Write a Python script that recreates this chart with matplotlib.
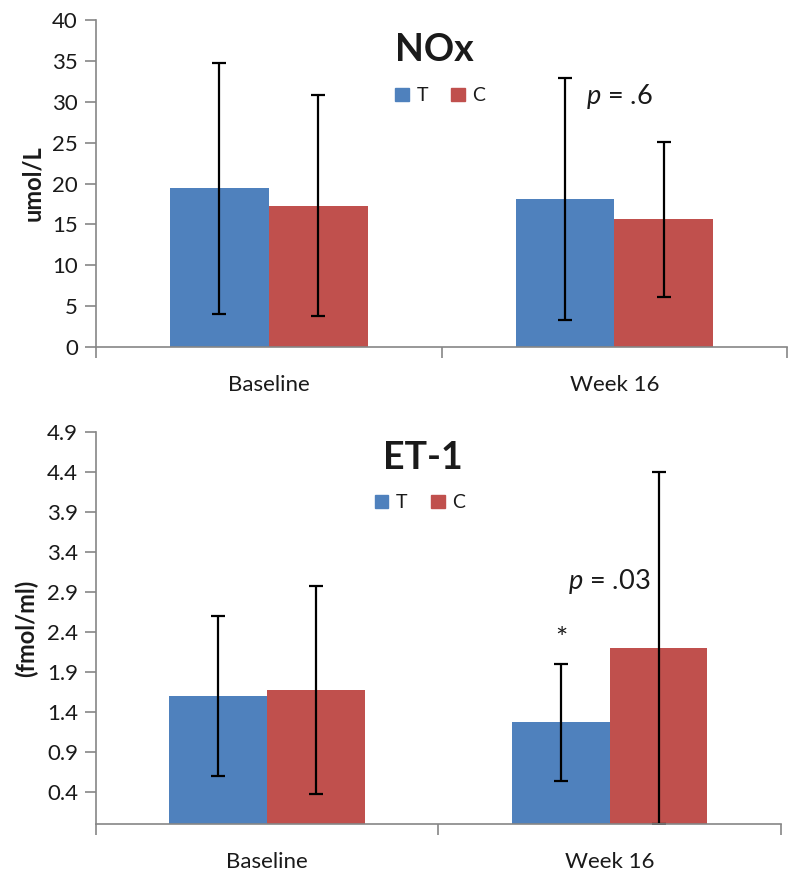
import matplotlib
matplotlib.use("Agg")
import matplotlib.pyplot as plt
import numpy as np
from matplotlib.patches import Patch

plt.rcParams['font.family'] = ['Lato', 'DejaVu Sans']
plt.rcParams['mathtext.fontset'] = 'custom'
plt.rcParams['mathtext.it'] = 'Lato:italic'
plt.rcParams['mathtext.rm'] = 'Lato'

categories = ["Baseline", "Week 16"]
series = ["T", "C"]

nox_T = [19.4, 18.1]
nox_C = [17.3, 15.6]
nox_T_err = [15.4, 14.85]
nox_C_err = [13.5, 9.5]
nox_ticks = [0, 5, 10, 15, 20, 25, 30, 35, 40]

et_T = [1.60, 1.27]
et_C = [1.68, 2.20]
et_T_err = [1.0, 0.73]
et_C_err = [1.30, 2.20]
et_ticks = [0.4, 0.9, 1.4, 1.9, 2.4, 2.9, 3.4, 3.9, 4.4, 4.9]

blue = "#4F81BD"
red = "#C0504D"
axis_grey = "#868686"
text_col = "#1a1a1a"

fig = plt.figure(figsize=(8.0, 8.77), dpi=100)
ax1 = fig.add_axes([0.12, 0.6043, 0.864, 0.3729])
ax2 = fig.add_axes([0.12, 0.0604, 0.856, 0.447])

w = 1 / 3.5
TICK_FS = 16


def style(ax, ticks, ylim, yfmt):
    x = np.arange(len(categories))
    for s in ["top", "right"]:
        ax.spines[s].set_visible(False)
    for s in ["left", "bottom"]:
        ax.spines[s].set_color(axis_grey)
        ax.spines[s].set_linewidth(1.2)
    ax.set_xlim(-0.5, 1.5)
    ax.set_ylim(*ylim)
    ax.set_yticks(ticks)
    ax.set_yticklabels([yfmt(t) for t in ticks], fontsize=TICK_FS, color=text_col)
    ax.set_xticks(x)
    ax.set_xticklabels(categories, fontsize=TICK_FS, color=text_col)
    ax.tick_params(axis="x", which="major", length=0, pad=20)
    ax.set_xticks([-0.5, 0.5, 1.5], minor=True)
    ax.tick_params(axis="x", which="minor", length=8, width=1.2, color=axis_grey, direction="out")
    ax.tick_params(axis="y", length=8, width=1.2, color=axis_grey, direction="out", pad=5)


def bars(ax, T, C, Terr, Cerr, Clower=None):
    x = np.arange(len(categories))
    ekw = dict(ecolor="black", elinewidth=1.6, capsize=5, capthick=1.6)
    ax.bar(x - w / 2, T, w, color=blue, yerr=Terr, error_kw=ekw, zorder=2)
    if Clower is None:
        Clower = Cerr
    ax.bar(x + w / 2, C, w, color=red, yerr=[Clower, Cerr], error_kw=ekw, zorder=2)


leg_kw = dict(loc="center", ncol=2, frameon=False, fontsize=14, handlelength=0.7,
              handleheight=0.7, handletextpad=0.4, columnspacing=1.2, labelcolor=text_col)

# Top: NOx
bars(ax1, nox_T, nox_C, nox_T_err, nox_C_err)
style(ax1, nox_ticks, (0, 40), lambda t: f"{t:g}")
ax1.set_ylabel("umol/L", fontsize=17, fontweight="bold", color=text_col, labelpad=6)
ax1.text(0.489, 0.908, "NOx", transform=ax1.transAxes, ha="center", va="center",
         fontsize=27, fontweight="bold", color=text_col)
ax1.text(0.757, 0.765, r"$p$ = .6", transform=ax1.transAxes, ha="center", va="center",
         fontsize=19.5, color=text_col)
handles = [Patch(color=blue, label="T"), Patch(color=red, label="C")]
ax1.legend(handles=handles, bbox_to_anchor=(0.498, 0.768), **leg_kw)

# Bottom: ET-1 (C lower error clipped at axis)
et_C_lower = [et_C_err[0], et_C[1]]
bars(ax2, et_T, et_C, et_T_err, et_C_err, Clower=et_C_lower)
style(ax2, et_ticks, (0, 4.9), lambda t: f"{t:.1f}")
ax2.set_ylabel("(fmol/ml)", fontsize=17, fontweight="bold", color=text_col, labelpad=6)
ax2.text(0.477, 0.934, "ET-1", transform=ax2.transAxes, ha="center", va="center",
         fontsize=27, fontweight="bold", color=text_col)
ax2.text(0.749, 0.618, r"$p$ = .03", transform=ax2.transAxes, ha="center", va="center",
         fontsize=19.5, color=text_col)
ax2.text(0.680, 0.470, "*", transform=ax2.transAxes, ha="center", va="center",
         fontsize=21, color=text_col)
ax2.legend(handles=handles, bbox_to_anchor=(0.473, 0.819), **leg_kw)

fig.savefig("out.png", dpi=100)
